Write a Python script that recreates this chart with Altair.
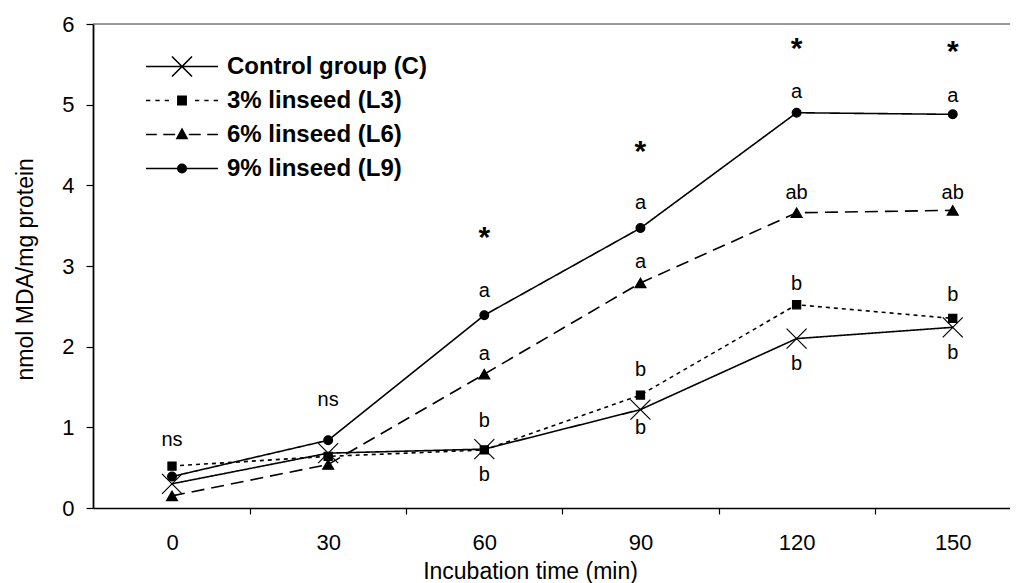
import altair as alt
import pandas as pd

# ---------------- data ----------------
times = [0, 30, 60, 90, 120, 150]
series_names = ["Control group (C)", "3% linseed (L3)", "6% linseed (L6)", "9% linseed (L9)"]
control = [0.30, 0.68, 0.73, 1.22, 2.10, 2.24]
linseed3 = [0.52, 0.64, 0.72, 1.40, 2.52, 2.35]
linseed6 = [0.15, 0.54, 1.66, 2.79, 3.66, 3.69]
linseed9 = [0.39, 0.84, 2.39, 3.47, 4.90, 4.88]

ann_time = [0, 30, 60, 60, 60, 60, 60, 90, 90, 90, 90, 90,
            120, 120, 120, 120, 120, 150, 150, 150, 150, 150]
ann_value = [0.77, 1.27, 3.23, 2.62, 1.84, 1.00, 0.34, 4.30, 3.71, 2.98, 1.64, 0.92,
             5.58, 5.08, 3.83, 2.70, 1.71, 5.54, 5.03, 3.83, 2.57, 1.85]
ann_label = ["ns", "ns", "*", "a", "a", "b", "b", "*", "a", "a", "b", "b",
             "*", "a", "ab", "b", "b", "*", "a", "ab", "b", "b"]

x_ticks = [0, 15, 30, 45, 60, 75, 90, 105, 120, 135, 150]
y_ticks = [0, 1, 2, 3, 4, 5, 6]

rows = []
for name, vals in zip(series_names, [control, linseed3, linseed6, linseed9]):
    for t, v in zip(times, vals):
        rows.append({"time": t, "value": v, "series": name})
df = pd.DataFrame(rows)
ann = pd.DataFrame({"time": ann_time, "value": ann_value, "label": ann_label})
frame = pd.DataFrame({"top": [6]})

FONT = "Liberation Sans"

# ---------------- styles ----------------
dash_range = [[1, 0], [4, 4], [13, 7], [1, 0]]
x_path = "M-1,-1L1,1M-1,1L1,-1"
shape_range = [x_path, "square", "triangle-up", "circle"]
size_range = [400, 66, 120, 77]


def dashes(segs):
    return "".join(f"M{a},0L{b},0" for a, b in segs)


leg_x = "M-1,0L1,0M-0.278,-0.278L0.278,0.278M-0.278,0.278L0.278,-0.278"
leg_sq = dashes([(-1, -0.88), (-0.74, -0.62), (-0.48, -0.36), (0.36, 0.48), (0.62, 0.74), (0.88, 1)]) + \
    "M-0.115,-0.115L0.115,-0.115L0.115,0.115L-0.115,0.115Z"
leg_tri = dashes([(-1, -0.70), (-0.52, -0.19), (0.19, 0.52), (0.70, 1)]) + \
    "M0,-0.15L0.14,0.11L-0.14,0.11Z"
leg_circ = "M-1,0L1,0M0.117,0A0.117,0.117,0,1,1,-0.117,0A0.117,0.117,0,1,1,0.117,0Z"
legend_paths = [leg_x, leg_sq, leg_tri, leg_circ]

x_scale = alt.Scale(domain=[-15.18, 161.0], nice=False, zero=False)
y_scale = alt.Scale(domain=[0, 6], nice=False)

x_axis = alt.Axis(
    values=x_ticks,
    labelExpr="datum.value % 30 == 0 ? datum.label : ''",
    tickOpacity={"condition": {"test": "datum.value % 30 == 0", "value": 0}, "value": 1},
    tickSize=6, tickWidth=1.2, labelPadding=18, labelFontSize=22, labelFlush=False,
    labelOverlap=False, domainWidth=1.5,
    title="Incubation time (min)", titleFontSize=23, titleX=437, titleY=70.5,
    titleBaseline="alphabetic", titleAlign="center",
)
y_axis = alt.Axis(
    values=y_ticks, format="d", tickSize=7, tickWidth=1.2, labelPadding=12, labelFontSize=22,
    domainWidth=1.8, labelFlush=False,
    title="nmol MDA/mg protein", titleFontSize=23, titleX=-60.7, titleY=244.8,
    titleBaseline="alphabetic", titleAlign="center", titleAngle=270,
)

X = alt.X("time:Q", scale=x_scale, axis=x_axis)
Y = alt.Y("value:Q", scale=y_scale, axis=y_axis)

base = alt.Chart(df)

lines = base.mark_line(color="black", strokeWidth=1.6).encode(
    x=X, y=Y,
    strokeDash=alt.StrokeDash("series:N", scale=alt.Scale(domain=series_names, range=dash_range), legend=None),
)

points = base.mark_point(filled=True, color="black", stroke="black", strokeWidth=1.2, opacity=1).encode(
    x=X, y=Y,
    shape=alt.Shape("series:N", scale=alt.Scale(domain=series_names, range=shape_range), legend=None),
    size=alt.Size("series:N", scale=alt.Scale(type="ordinal", domain=series_names, range=size_range),
                  legend=None),
)

legend_layer = base.transform_filter("false").mark_point(
    filled=False, fill="black", stroke="black", color="black", strokeWidth=1.6, size=5184, opacity=1
).encode(
    x=X, y=Y,
    shape=alt.Shape(
        "series:N",
        scale=alt.Scale(domain=series_names, range=legend_paths),
        legend=alt.Legend(
            title=None, orient="none", legendX=52, legendY=25.5, clipHeight=34, rowPadding=0,
            padding=0, symbolSize=5184, symbolFillColor="black",
            symbolStrokeWidth=1.6, symbolOpacity=1, labelFont=FONT, labelFontSize=24,
            labelFontWeight="bold", labelColor="black", labelOffset=8, labelLimit=0,
        ),
    ),
)

top_rule = alt.Chart(frame).mark_rule(color="#333333", strokeWidth=1).encode(y=alt.Y("top:Q", scale=y_scale))

letters = alt.Chart(ann).transform_filter("datum.label != '*'").mark_text(
    font=FONT, fontSize=20, color="black", align="center", baseline="alphabetic"
).encode(x=alt.X("time:Q", scale=x_scale), y=alt.Y("value:Q", scale=y_scale), text="label:N")

stars = alt.Chart(ann).transform_filter("datum.label == '*'").mark_text(
    font=FONT, fontSize=30, fontWeight="bold", color="black", align="center", baseline="alphabetic"
).encode(x=alt.X("time:Q", scale=x_scale), y=alt.Y("value:Q", scale=y_scale), text="label:N")

chart = alt.layer(top_rule, lines, points, legend_layer, letters, stars).resolve_scale(
    shape="independent", size="independent"
).properties(
    width=917, height=484,
    autosize=alt.AutoSizeParams(type="none"),
    padding={"left": 85, "top": 16, "right": 0, "bottom": 75},
).configure_view(stroke=None).configure_axis(
    grid=False, domainColor="black", tickColor="black", labelColor="black", titleColor="black",
    labelFont=FONT, titleFont=FONT, titleFontWeight="normal",
)

chart.save("out.html", embed_options={"renderer": "svg", "actions": False})
